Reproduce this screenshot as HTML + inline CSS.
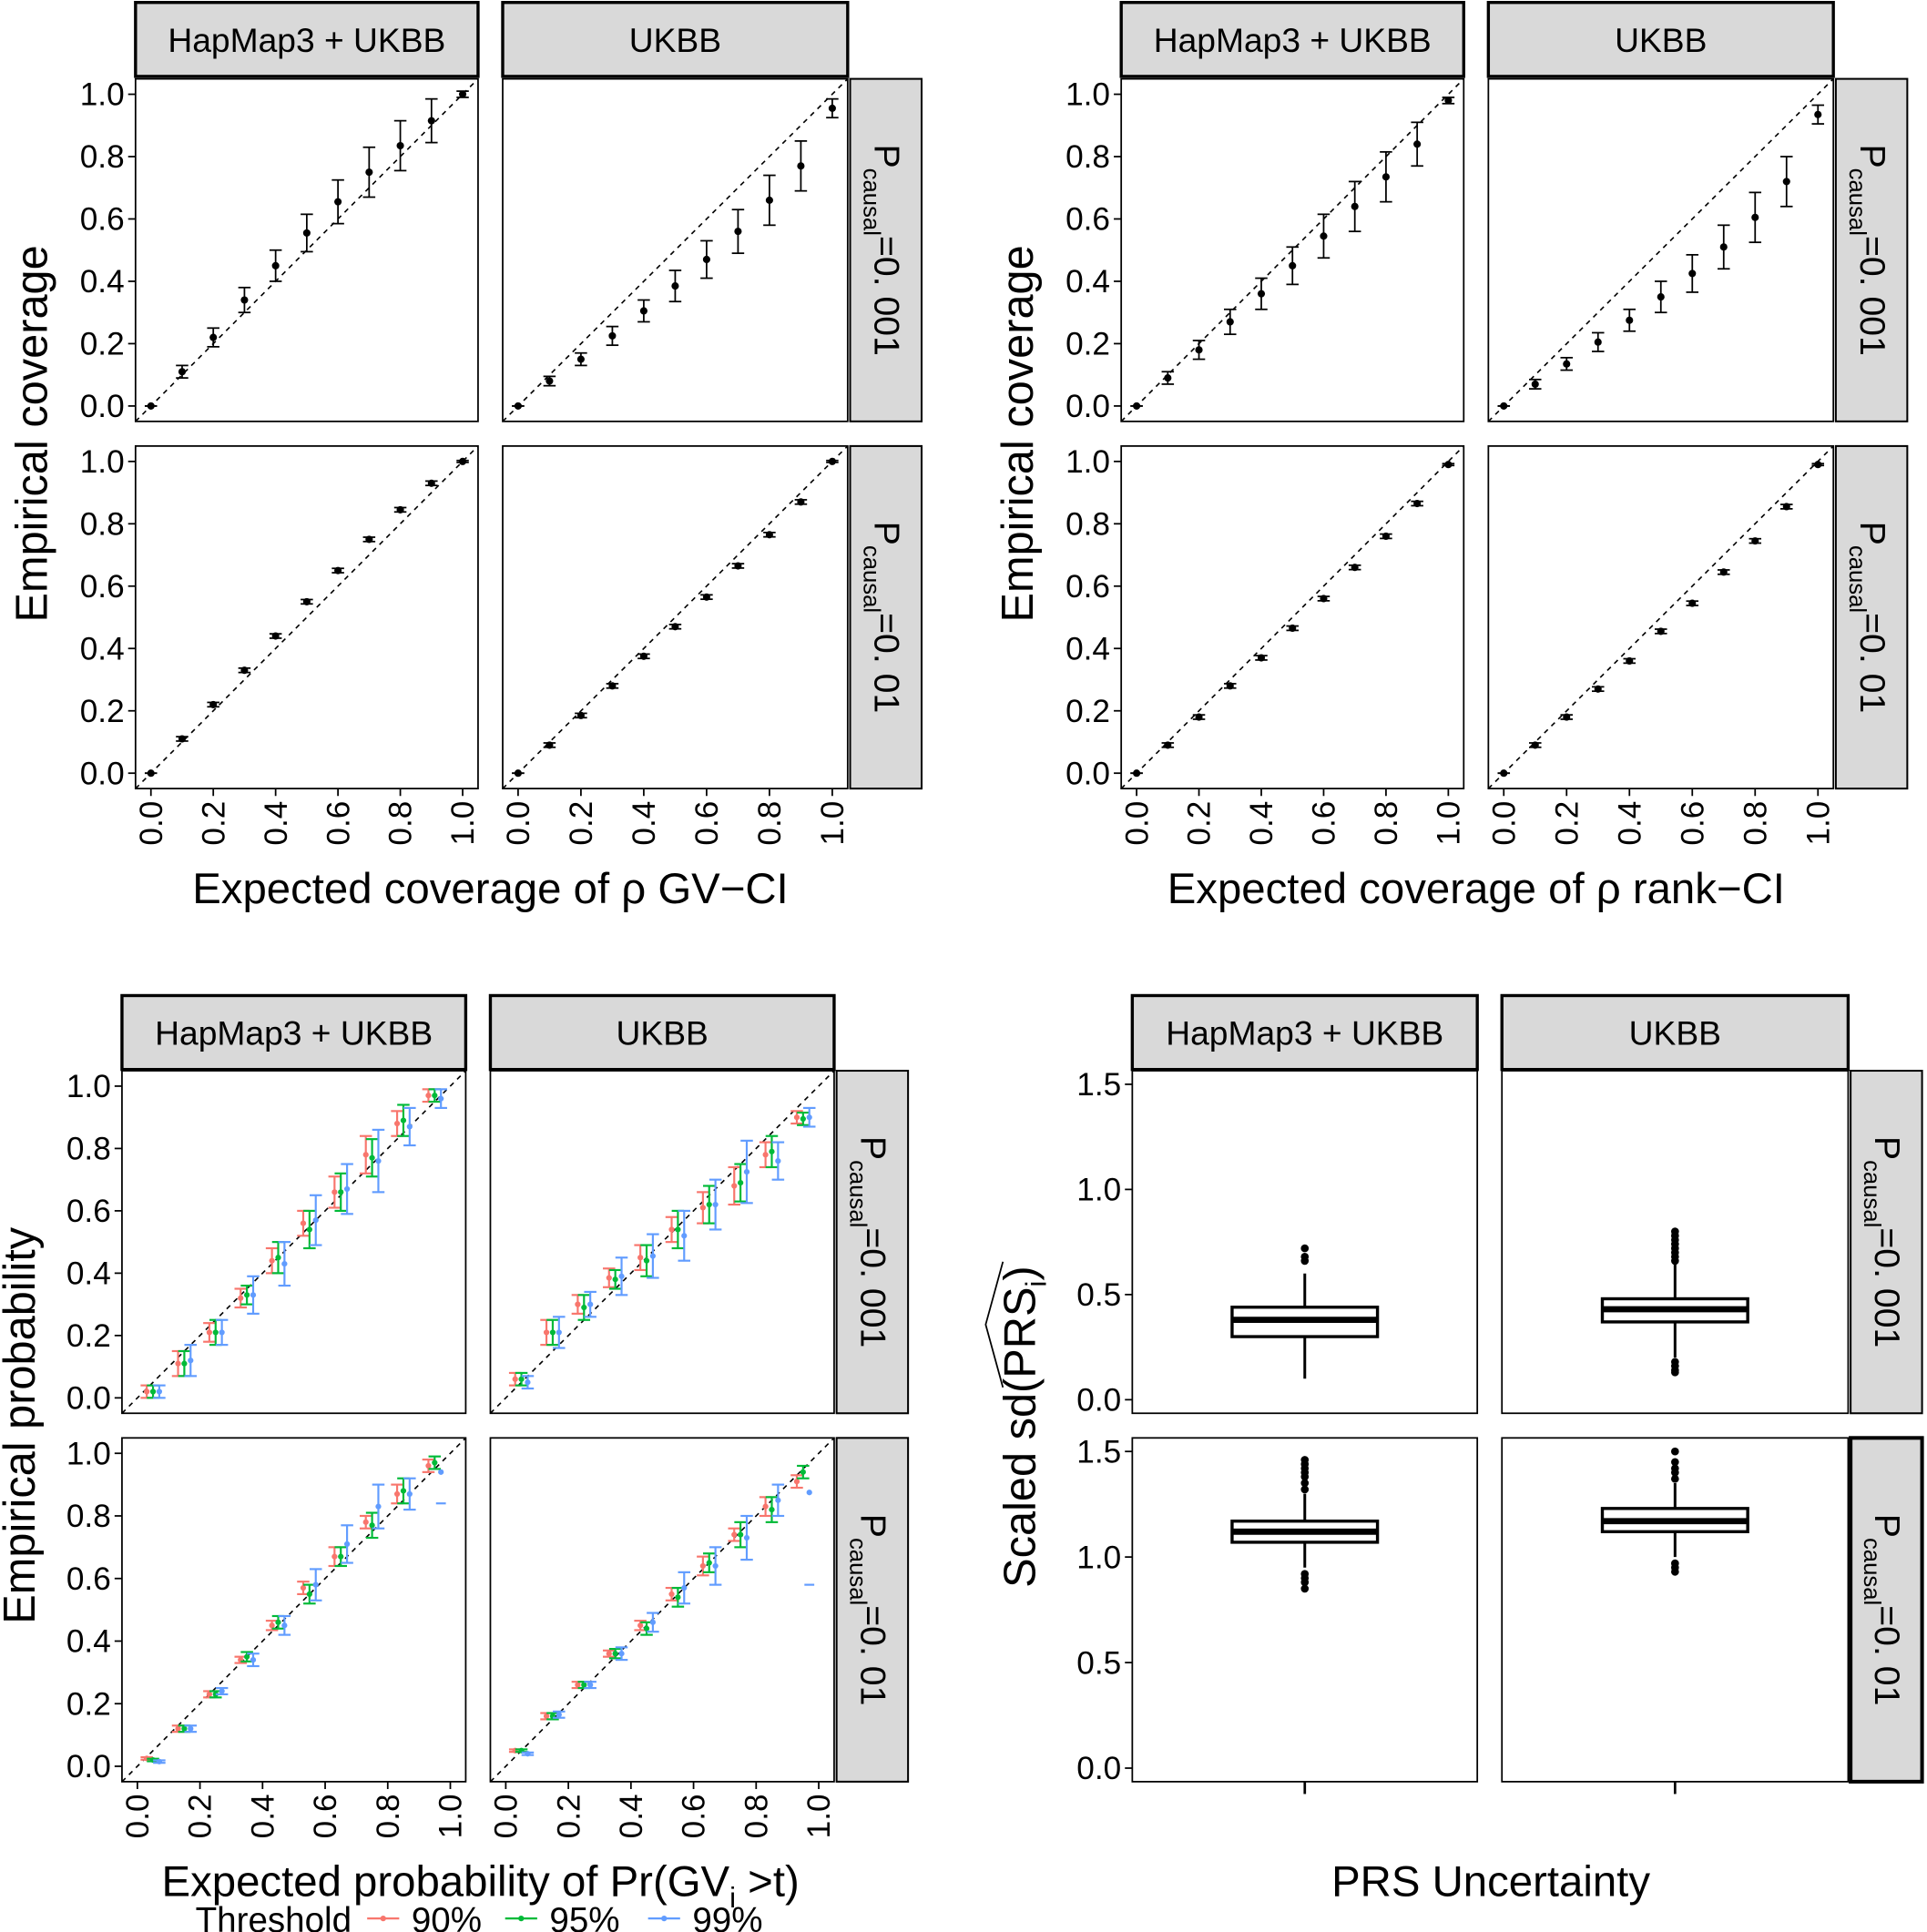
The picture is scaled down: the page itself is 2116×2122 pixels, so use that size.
<!DOCTYPE html>
<html><head><meta charset="utf-8"><style>
html,body{margin:0;padding:0;background:#fff;}
svg{display:block;font-family:"Liberation Sans",Arial,sans-serif;}
</style></head><body>
<svg id="s" width="2116" height="2122" viewBox="0 0 1564 1568" preserveAspectRatio="none" xmlns="http://www.w3.org/2000/svg"></svg>
<script>
var S=document.getElementById('s');var o='';
function L(x1,y1,x2,y2,c,w,d){o+='<line x1="'+x1+'" y1="'+y1+'" x2="'+x2+'" y2="'+y2+'" stroke="'+(c||'#000')+'" stroke-width="'+(w||1.3)+'"'+(d?' stroke-dasharray="'+d+'"':'')+'/>';}
function R(x,y,w,h,f,sw){o+='<rect x="'+x+'" y="'+y+'" width="'+w+'" height="'+h+'" fill="'+(f||'none')+'" stroke="#000" stroke-width="'+(sw||1.3)+'"/>';}
function T(x,y,t,sz,anc,rot){o+='<text x="'+x+'" y="'+y+'" font-size="'+sz+'" text-anchor="'+(anc||'middle')+'"'+(rot?' transform="rotate('+rot+' '+x+' '+y+')"':'')+'>'+t+'</text>';}
function C(x,y,r,f){o+='<circle cx="'+x+'" cy="'+y+'" r="'+r+'" fill="'+(f||'#000')+'"/>';}
function strip(x,y,w,h,t){R(x,y,w,h,'#d9d9d9',2.5);T(x+w/2,y+h/2+10,t,27.5);}
function rstrip(x,y,w,h,t,thick){R(x,y,w,h,'#d9d9d9',thick?3:1.5);var cx=x+w/2-9,cy=y+h/2;
 o+='<text transform="translate('+cx+' '+cy+') rotate(90)" text-anchor="middle" font-size="29">P<tspan font-size="19" dy="9">causal</tspan><tspan dy="-9">=0. '+t+'</tspan></text>';}
function grid(cfg){
 var px=cfg.px, rows=cfg.rows;
 strip(px[0][0],cfg.sy,px[0][1]-px[0][0],60,'HapMap3 + UKBB');
 strip(px[1][0],cfg.sy,px[1][1]-px[1][0],60,'UKBB');
 for(var r=0;r<2;r++){var ry=rows[r];
  rstrip(px[1][1]+2,ry[0],58,ry[1]-ry[0],r==0?'001':'01',cfg.thick&&r==1);
  for(var c=0;c<2;c++){var x0=px[c][0],x1=px[c][1];
   R(x0,ry[0],x1-x0,ry[1]-ry[0]);
   cfg.draw(r,c,x0,x1,ry[0],ry[1]);
  }
 }
}
function tickY(x0,y,lab){L(x0-6,y,x0,y);T(x0-9,y+9,lab,26,'end');}
function tickX(x,yb,lab){L(x,yb,x,yb+6);T(x+9,yb+10,lab,26,'end',-90);}
function cov(offX,data,xtitle){
 var px=[[110+offX,388+offX],[408+offX,688+offX]];
 var rows=[[64,342],[362,640]];
 grid({px:px,rows:rows,sy:2,draw:function(r,c,x0,x1,y0,y1){
  var fx=function(v){return x0+12.5+v*(x1-x0-25)},fy=function(v){return y1-12.5-v*(y1-y0-25)};
  L(x0,y1,x1,y0,'#000',1.2,'4,4');
  var d=data[r][c];
  for(var i=0;i<=10;i++){var x=fx(i/10),y=fy(d[0][i]),e=d[1][i];
   L(x,fy(d[0][i]-e),x,fy(d[0][i]+e));L(x-5,fy(d[0][i]-e),x+5,fy(d[0][i]-e));L(x-5,fy(d[0][i]+e),x+5,fy(d[0][i]+e));C(x,y,3);}
  if(c==0)for(var k=0;k<=5;k++)tickY(x0,fy(k/5),(k/5).toFixed(1));
  if(r==1)for(var k=0;k<=5;k++)tickX(fx(k/5),y1,(k/5).toFixed(1));
 }});
 T(offX+398,733,xtitle,35);
 T(offX+38,352,'Empirical coverage',36,'middle',-90);
}
var eT=[0,.02,.03,.04,.05,.06,.07,.08,.08,.07,.01],eS=[0,.007,.007,.007,.007,.007,.007,.007,.007,.007,.003];
var eU=[0,.015,.02,.03,.035,.05,.06,.07,.08,.08,.03];
cov(0,[[[[0,.11,.22,.34,.45,.555,.655,.75,.835,.915,1],eT],[[0,.08,.15,.225,.305,.385,.47,.56,.66,.77,.955],eU]],
 [[[0,.11,.22,.33,.44,.55,.65,.75,.845,.93,1],eS],[[0,.09,.185,.28,.375,.47,.565,.665,.765,.87,1],eS]]],'Expected coverage of ρ GV−CI');
cov(800,[[[[0,.09,.18,.27,.36,.45,.545,.64,.735,.84,.98],eT],[[0,.07,.135,.205,.275,.35,.425,.51,.605,.72,.935],eU]],
 [[[0,.09,.18,.28,.37,.465,.56,.66,.76,.865,.99],eS],[[0,.09,.18,.27,.36,.455,.545,.645,.745,.855,.99],eS]]],'Expected coverage of ρ rank−CI');
var cols=['#F8766D','#00BA38','#619CFF'];
var bl=[[
 [[.02,.02,.02],[.11,.11,.12],[.21,.21,.21],[.32,.33,.33],[.44,.45,.43],[.56,.54,.57],[.66,.66,.67],[.78,.77,.76],[.88,.89,.87],[.97,.97,.96]],
 [[.06,.06,.05],[.21,.21,.21],[.30,.29,.30],[.385,.38,.39],[.45,.44,.455],[.54,.54,.52],[.61,.62,.62],[.68,.69,.725],[.78,.79,.76],[.90,.895,.90]]],
 [[[.025,.02,.015],[.12,.12,.12],[.23,.23,.24],[.34,.35,.34],[.45,.46,.45],[.57,.55,.58],[.67,.67,.71],[.78,.77,.83],[.87,.88,.87],[.96,.97,.94]],
 [[.05,.05,.04],[.16,.16,.165],[.26,.26,.26],[.36,.36,.36],[.45,.44,.46],[.55,.54,.57],[.64,.65,.64],[.74,.74,.73],[.83,.82,.85],[.91,.94,.875]]]];
var ebT=[[.02,.02,.02],[.04,.04,.05],[.03,.04,.04],[.03,.03,.06],[.04,.05,.07],[.04,.06,.08],[.05,.06,.08],[.06,.06,.1],[.04,.05,.06],[.02,.02,.03]];
var ebB=[[.004,.004,.004],[.01,.01,.01],[.01,.01,.01],[.01,.015,.02],[.015,.02,.03],[.02,.03,.05],[.03,.03,.06],[.02,.04,.07],[.03,.04,.05],[.02,.02,0]];
grid({px:[[99,378],[398,677]],rows:[[869,1147],[1167,1446]],sy:808,draw:function(r,c,x0,x1,y0,y1){
 var fx=function(v){return x0+12.5+v*(x1-x0-25)},fy=function(v){return y1-12.5-v*(y1-y0-25)};
 L(x0,y1,x1,y0,'#000',1.2,'4,4');
 var d=bl[r][c];
 for(var i=0;i<10;i++)for(var k=0;k<3;k++){var xv=0.03+i*0.1+k*0.02,x=fx(xv),v=d[i][k],eb=(r==0?ebT:ebB)[i][k];
  if(eb>0){L(x,fy(v-eb),x,fy(v+eb),cols[k],1.6);L(x-5,fy(v-eb),x+5,fy(v-eb),cols[k],1.6);L(x-5,fy(v+eb),x+5,fy(v+eb),cols[k],1.6);}
  C(x,fy(v),2.3,cols[k]);}
 if(r==1&&c==0)L(fx(.97)-4,fy(.84),fx(.97)+4,fy(.84),cols[2],1.6);
 if(r==1&&c==1)L(fx(.97)-4,fy(.58),fx(.97)+4,fy(.58),cols[2],1.6);
 if(c==0)for(var k=0;k<=5;k++)tickY(x0,fy(k/5),(k/5).toFixed(1));
 if(r==1)for(var k=0;k<=5;k++)tickX(fx(k/5),y1,(k/5).toFixed(1));
}});
o+='<text x="390" y="1539" font-size="35" text-anchor="middle">Expected probability of Pr(GV<tspan font-size="23" dy="9">i</tspan><tspan dy="-9"> &gt;t)</tspan></text>';
T(28,1157,'Empirical probability',36,'middle',-90);
T(222,1568,'Threshold',28.5);
var lx=[298,410,526];['90%','95%','99%'].forEach(function(t,k){L(lx[k],1557,lx[k]+26,1557,cols[k],1.6);C(lx[k]+13,1557,2.3,cols[k]);T(lx[k]+36,1568,t,28.5,'start');});
var bx=[[[.10,.30,.38,.44,.60],[.66,.68,.72]],[[.20,.37,.43,.48,.65],[.13,.14,.16,.18,.66,.68,.7,.72,.74,.76,.78,.8]]];
var bx2=[[[.95,1.07,1.12,1.17,1.30],[.85,.88,.9,.92,1.32,1.35,1.38,1.4,1.42,1.44,1.46]],[[1.0,1.12,1.17,1.23,1.35],[.93,.95,.97,1.37,1.4,1.42,1.45,1.5]]];
grid({px:[[919,1199],[1219,1500]],rows:[[869,1147],[1167,1446]],sy:808,thick:true,draw:function(r,c,x0,x1,y0,y1){
 var fy=function(v){return y1-11-v*(y1-y0-22)/1.5};
 var cx=(x0+x1)/2,b=(r==0?bx:bx2)[c],q=b[0];
 L(cx,fy(q[0]),cx,fy(q[4]),'#000',2.2);
 R(cx-59,fy(q[3]),118,fy(q[1])-fy(q[3]),'#fff',2.5);
 L(cx-59,fy(q[2]),cx+59,fy(q[2]),'#000',5);
 b[1].forEach(function(v){C(cx,fy(v),3.2);});
 if(c==0)for(var k=0;k<=3;k++)tickY(x0,fy(k*.5),(k*.5).toFixed(1));
 if(r==1)L(cx,y1,cx,y1+10,'#000',2);
}});
T(1210,1539,'PRS Uncertainty',35);
o+='<text transform="translate(840 1158) rotate(-90)" text-anchor="middle" font-size="36">Scaled sd(PRS<tspan font-size="23" dy="9">i</tspan><tspan dy="-9">)</tspan></text>';
o+='<path d="M814 1126 L800 1075 L814 1024" fill="none" stroke="#000" stroke-width="1.3"/>';
S.innerHTML=o;
</script>
</body></html>
